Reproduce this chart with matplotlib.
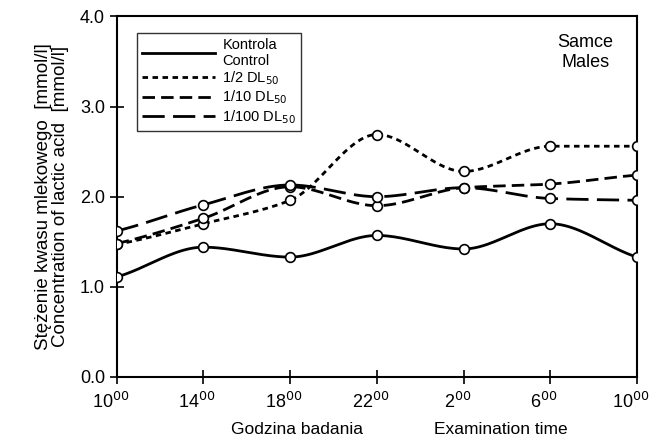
import numpy as np
import matplotlib.pyplot as plt
from matplotlib.transforms import ScaledTranslation

plt.rcParams['font.family'] = ['Liberation Sans', 'DejaVu Sans']

hours = ['10', '14', '18', '22', '2', '6', '10']
kontrola = [1.11, 1.44, 1.33, 1.57, 1.42, 1.70, 1.33]
dl_half = [1.47, 1.70, 1.96, 2.69, 2.28, 2.56, 2.56]
dl_10 = [1.48, 1.76, 2.11, 1.90, 2.10, 2.14, 2.24]
dl_100 = [1.62, 1.91, 2.13, 2.00, 2.10, 1.98, 1.96]


def smooth(y, n=40):
    # monotone cubic (pchip) through the points, only for drawing the curve
    y = np.asarray(y, float)
    k = len(y)
    d = np.diff(y)
    m = np.zeros(k)
    for i in range(1, k - 1):
        if d[i - 1] * d[i] > 0:
            m[i] = 2 / (1 / d[i - 1] + 1 / d[i])
    m[0] = d[0] * 0.8
    m[-1] = d[-1] * 0.8
    xs, ys = [], []
    for i in range(k - 1):
        t = np.linspace(0, 1, n, endpoint=(i == k - 2))
        h00 = 2 * t ** 3 - 3 * t ** 2 + 1
        h10 = t ** 3 - 2 * t ** 2 + t
        h01 = -2 * t ** 3 + 3 * t ** 2
        h11 = t ** 3 - t ** 2
        xs.append(i + t)
        ys.append(h00 * y[i] + h10 * m[i] + h01 * y[i + 1] + h11 * m[i + 1])
    return np.concatenate(xs), np.concatenate(ys)


fig = plt.figure(figsize=(6.52, 4.44), dpi=100)
ax = fig.add_axes([0.179, 0.151, 0.798, 0.812])

series = [
    (kontrola, 'Kontrola\nControl', '-'),
    (dl_half, '1/2 DL$_{50}$', (0, (2.0, 1.6))),
    (dl_10, '1/10 DL$_{50}$', (0, (4.5, 2.2))),
    (dl_100, '1/100 DL$_{50}$', (0, (8, 3))),
]
x = np.arange(len(hours))
for vals, lab, ls in series:
    sx, sy = smooth(vals)
    ax.plot(sx, sy, color='black', lw=2, linestyle=ls, label=lab)
    ax.plot(x, vals, 'o', ms=7, mfc='white', mec='black', mew=1.2, zorder=5)

ax.set_xlim(0, len(hours) - 1)
ax.set_ylim(0, 4)
ax.set_xticks(x)
ax.set_xticklabels([])
# hour labels: base number sits on the tick, superscript hangs to the right
shift = ScaledTranslation(-4.5 / 72, -11 / 72, fig.dpi_scale_trans)
for xi, h in zip(x, hours):
    ax.text(xi, 0, h + '$^{00}$', transform=ax.get_xaxis_transform() + shift,
            ha='center', va='top', fontsize=13)
ax.set_yticks([0, 1, 2, 3, 4])
ax.set_yticklabels(['0.0', '1.0', '2.0', '3.0', '4.0'], fontsize=13)
ax.tick_params(direction='inout', length=10, width=1.2)
for s in ax.spines.values():
    s.set_linewidth(1.5)

fig.text(0.455, 0.015, 'Godzina badania', fontsize=12.5, ha='center', va='bottom')
fig.text(0.768, 0.015, 'Examination time', fontsize=12.5, ha='center', va='bottom')
ax.set_ylabel('Stężenie kwasu mlekowego  [mmol/l]\nConcentration of lactic acid  [mmol/l]',
              fontsize=13.5, linespacing=1.0, labelpad=8)

leg = ax.legend(loc='upper left', bbox_to_anchor=(0.025, 0.975), fontsize=10.5,
                frameon=True, fancybox=False, edgecolor='black', handlelength=5.0,
                labelspacing=0.1, borderpad=0.35, handletextpad=0.5)
leg.get_frame().set_linewidth(1.0)

ax.text(0.955, 0.95, 'Samce\nMales', transform=ax.transAxes, ha='right', va='top',
        fontsize=13, multialignment='center')

fig.savefig('out.png', dpi=100)
